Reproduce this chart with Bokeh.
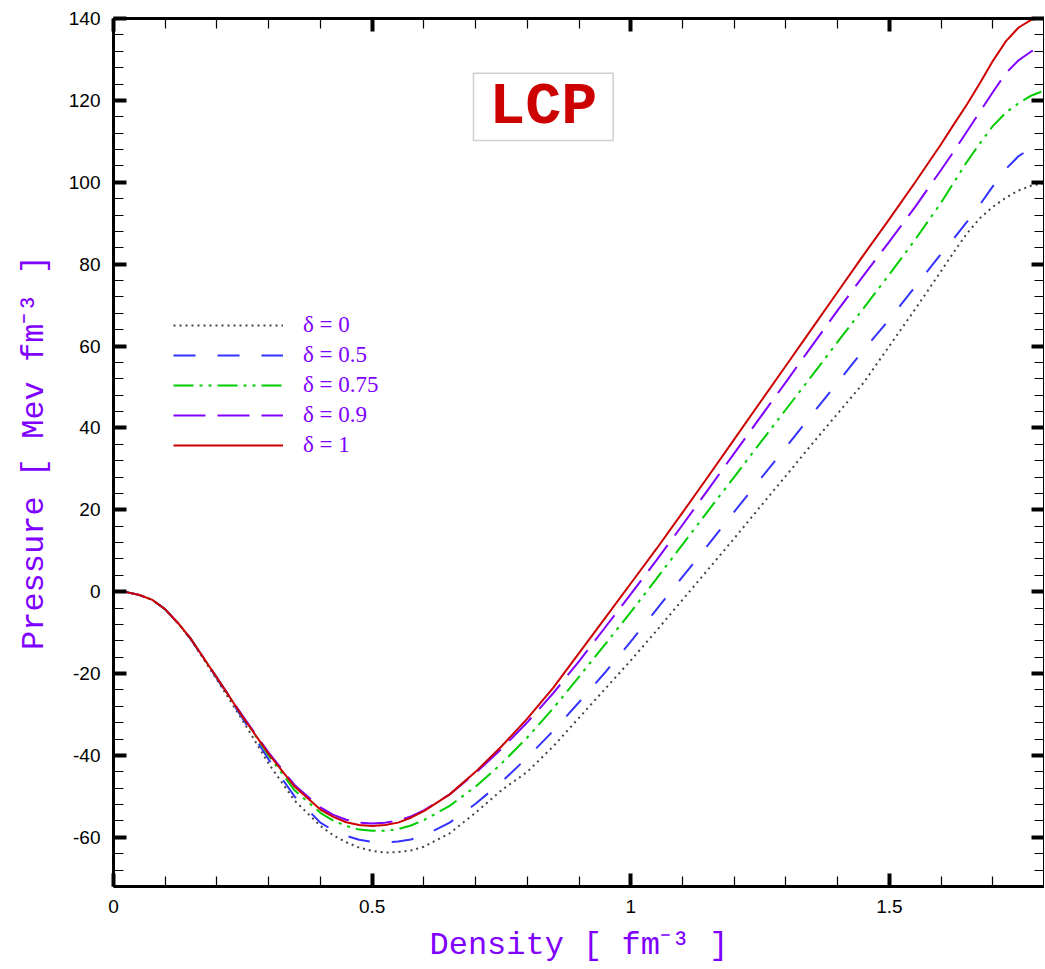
from bokeh.plotting import figure
from bokeh.models import (LinearAxis, SingleIntervalTicker, Legend, LegendItem, Label,
                          BoxAnnotation)
from bokeh.embed import file_html
from bokeh.resources import INLINE

# ---------------- data ----------------
density = [0, 0.025, 0.05, 0.075, 0.1, 0.125, 0.15, 0.175, 0.2, 0.25, 0.3, 0.35,
           0.4, 0.425, 0.45, 0.475, 0.5, 0.525, 0.55, 0.575, 0.6, 0.65,
           0.7, 0.75, 0.8, 0.85, 0.9, 0.95, 1.0, 1.05, 1.1, 1.15, 1.2, 1.25, 1.3, 1.35,
           1.4, 1.45, 1.5, 1.55, 1.6, 1.625, 1.65, 1.675, 1.7, 1.725, 1.75, 1.775, 1.8]

p_d0 = [0, -0.1, -0.8, -2.0, -4.3, -7.7, -11.8, -16.6, -21.5, -31.5, -42, -51,
        -57.2, -59.5, -61.2, -62.5, -63.3, -63.7, -63.6, -63.2, -62.3, -59,
        -54, -48.5, -44, -37.8, -30.8, -23.8, -16.8, -9.5, -2, 5.5, 13, 20.7, 28.3, 36,
        43.5, 51, 60, 69, 78.3, 83, 87.5, 91.2, 94, 96.2, 98, 99.2, 99.8]
p_d05 = [0, -0.1, -0.8, -2.0, -4.3, -7.7, -11.7, -16.5, -21.2, -31, -41, -50,
         -56.4, -58.3, -59.6, -60.6, -61.1, -61.3, -61, -60.5, -59.6, -56.4,
         -51.8, -46.5, -40.5, -34, -27, -19.8, -12.2, -4.3, 3.6, 11.5, 19.5, 27.4, 35.3,
         43.2, 51.1, 59, 66.5, 74.5, 82.5, 86.3, 90.3, 94.5, 99, 103.2, 106.4, 108.4, 109.4]
p_d075 = [0, -0.1, -0.8, -2.0, -4.3, -7.7, -11.6, -16.4, -21, -30.6, -40, -48.5,
          -54, -55.9, -57.2, -58.1, -58.4, -58.4, -58, -57.1, -55.8, -52.3,
          -47.6, -42, -35.6, -28.5, -20.8, -12.9, -5, 3.2, 11.5, 19.8, 28, 36.3,
          44.5, 52.7, 61, 69.2, 77.5, 86, 95, 100, 105, 109.5, 113.7, 117, 119.3, 121.2, 122.4]
p_d09 = [0, -0.1, -0.8, -2.0, -4.3, -7.7, -11.6, -16.3, -21, -30.4, -39.3, -47.2,
         -52.7, -54.5, -55.7, -56.4, -56.6, -56.4, -55.9, -54.9, -53.4, -49.5,
         -44.3, -38.4, -31.9, -24.8, -17, -8.8, -0.6, 7.7, 16.3, 25, 33.8, 42.5,
         51.2, 60, 68.7, 77.2, 85.5, 94, 103, 107.6, 112.4, 117.2, 122, 126.6, 129.8, 132, 133.3]
p_d1 = [0, -0.1, -0.8, -2.0, -4.3, -7.7, -11.6, -16.3, -21, -30.6, -39.6, -47.6,
        -53.2, -55, -56.3, -57, -57.2, -57, -56.4, -55.2, -53.6, -49.5,
        -44, -37.8, -31, -23.5, -15, -6.5, 2, 10.5, 19.3, 28.2, 37.2, 46.2,
        55.2, 64.2, 73.2, 82.2, 91, 100, 109.3, 114.2, 119, 124.2, 129.6, 134.4, 137.8, 139.7, 140.5]

series_labels = ["\u03b4 = 0", "\u03b4 = 0.5", "\u03b4 = 0.75", "\u03b4 = 0.9", "\u03b4 = 1"]
x_tick_labels = {0: "0", 0.5: "0.5", 1: "1", 1.5: "1.5"}
y_tick_labels = {-60: "-60", -40: "-40", -20: "-20", 0: "0", 20: "20", 40: "40",
                 60: "60", 80: "80", 100: "100", 120: "120", 140: "140"}

PURPLE = "#8000ff"

p = figure(frame_width=931, frame_height=868, x_range=(0, 1.8), y_range=(-72, 140),
           output_backend="svg", toolbar_location=None,
           min_border_left=113, min_border_right=0, min_border_top=18, min_border_bottom=60,
           x_axis_location=None, y_axis_location=None)
p.xgrid.visible = False
p.ygrid.visible = False
p.outline_line_color = None
p.background_fill_color = "white"
p.border_fill_color = "white"


def style_axis(ax, labels=True):
    ax.axis_line_width = 3
    ax.axis_line_color = "black"
    ax.major_tick_in = 13
    ax.major_tick_out = 0
    ax.minor_tick_in = 10
    ax.minor_tick_out = 0
    ax.major_tick_line_width = 4
    ax.minor_tick_line_width = 1.2
    ax.major_tick_line_color = "black"
    ax.minor_tick_line_color = "black"
    ax.major_label_text_font = "Liberation Sans"
    ax.major_label_text_font_size = "19px"
    ax.major_label_text_color = "black"
    if not labels:
        ax.major_label_text_font_size = "0px"
        ax.major_label_text_color = None


xb = LinearAxis(ticker=SingleIntervalTicker(interval=0.5, num_minor_ticks=5))
style_axis(xb)
xb.major_label_overrides = x_tick_labels
xb.major_label_standoff = 13
xb.axis_label = "Density [ fm\u207b\u00b3 ]"
xb.axis_label_text_font = "Liberation Mono"
xb.axis_label_text_font_size = "32px"
xb.axis_label_text_font_style = "normal"
xb.axis_label_text_color = PURPLE
xb.axis_label_standoff = 11
p.add_layout(xb, "below")

xt = LinearAxis(ticker=SingleIntervalTicker(interval=0.5, num_minor_ticks=5))
style_axis(xt, labels=False)
p.add_layout(xt, "above")

yl = LinearAxis(ticker=SingleIntervalTicker(interval=20, num_minor_ticks=5))
style_axis(yl)
yl.major_label_overrides = y_tick_labels
yl.major_label_standoff = 13
yl.axis_label = "Pressure [ Mev fm\u207b\u00b3 ]"
yl.axis_label_text_font = "Liberation Mono"
yl.axis_label_text_font_size = "32px"
yl.axis_label_text_font_style = "normal"
yl.axis_label_text_color = PURPLE
yl.axis_label_standoff = 13
p.add_layout(yl, "left")

yr = LinearAxis(ticker=SingleIntervalTicker(interval=20, num_minor_ticks=5))
style_axis(yr, labels=False)
p.add_layout(yr, "right")

r0 = p.line(density, p_d0, line_color="#444444", line_width=2, line_dash="2 4")
r1 = p.line(density, p_d05, line_color="#3333ff", line_width=2, line_dash="22 22")
r2 = p.line(density, p_d075, line_color="#00cc00", line_width=2, line_dash="20 6 3 6 3 6")
r3 = p.line(density, p_d09, line_color="#8000ff", line_width=2, line_dash="32 12")
r4 = p.line(density, p_d1, line_color="#cc0000", line_width=2)

legend = Legend(items=[LegendItem(label=lab, renderers=[r]) for lab, r in
                       zip(series_labels, [r0, r1, r2, r3, r4])],
                location=(60, 428), padding=0, margin=0, spacing=4,
                glyph_width=110, glyph_height=20, label_height=20, label_standoff=20,
                label_text_font="Liberation Serif", label_text_font_size="23px",
                label_text_color=PURPLE, background_fill_alpha=0,
                border_line_color=None)
p.add_layout(legend, "center")

box = BoxAnnotation(left=0.696, right=0.966, bottom=110.2, top=126.6,
                    fill_color="white", fill_alpha=1.0,
                    line_color="#cfcfcf", line_alpha=1.0, line_width=1.5)
p.add_layout(box)
title = Label(x=0.831, y=118.4, text="LCP", text_align="center", text_baseline="middle",
              text_font="Liberation Mono", text_font_size="60px", text_font_style="bold",
              text_color="#cc0000")
p.add_layout(title)

open("out.html", "w").write(file_html(p, INLINE))
